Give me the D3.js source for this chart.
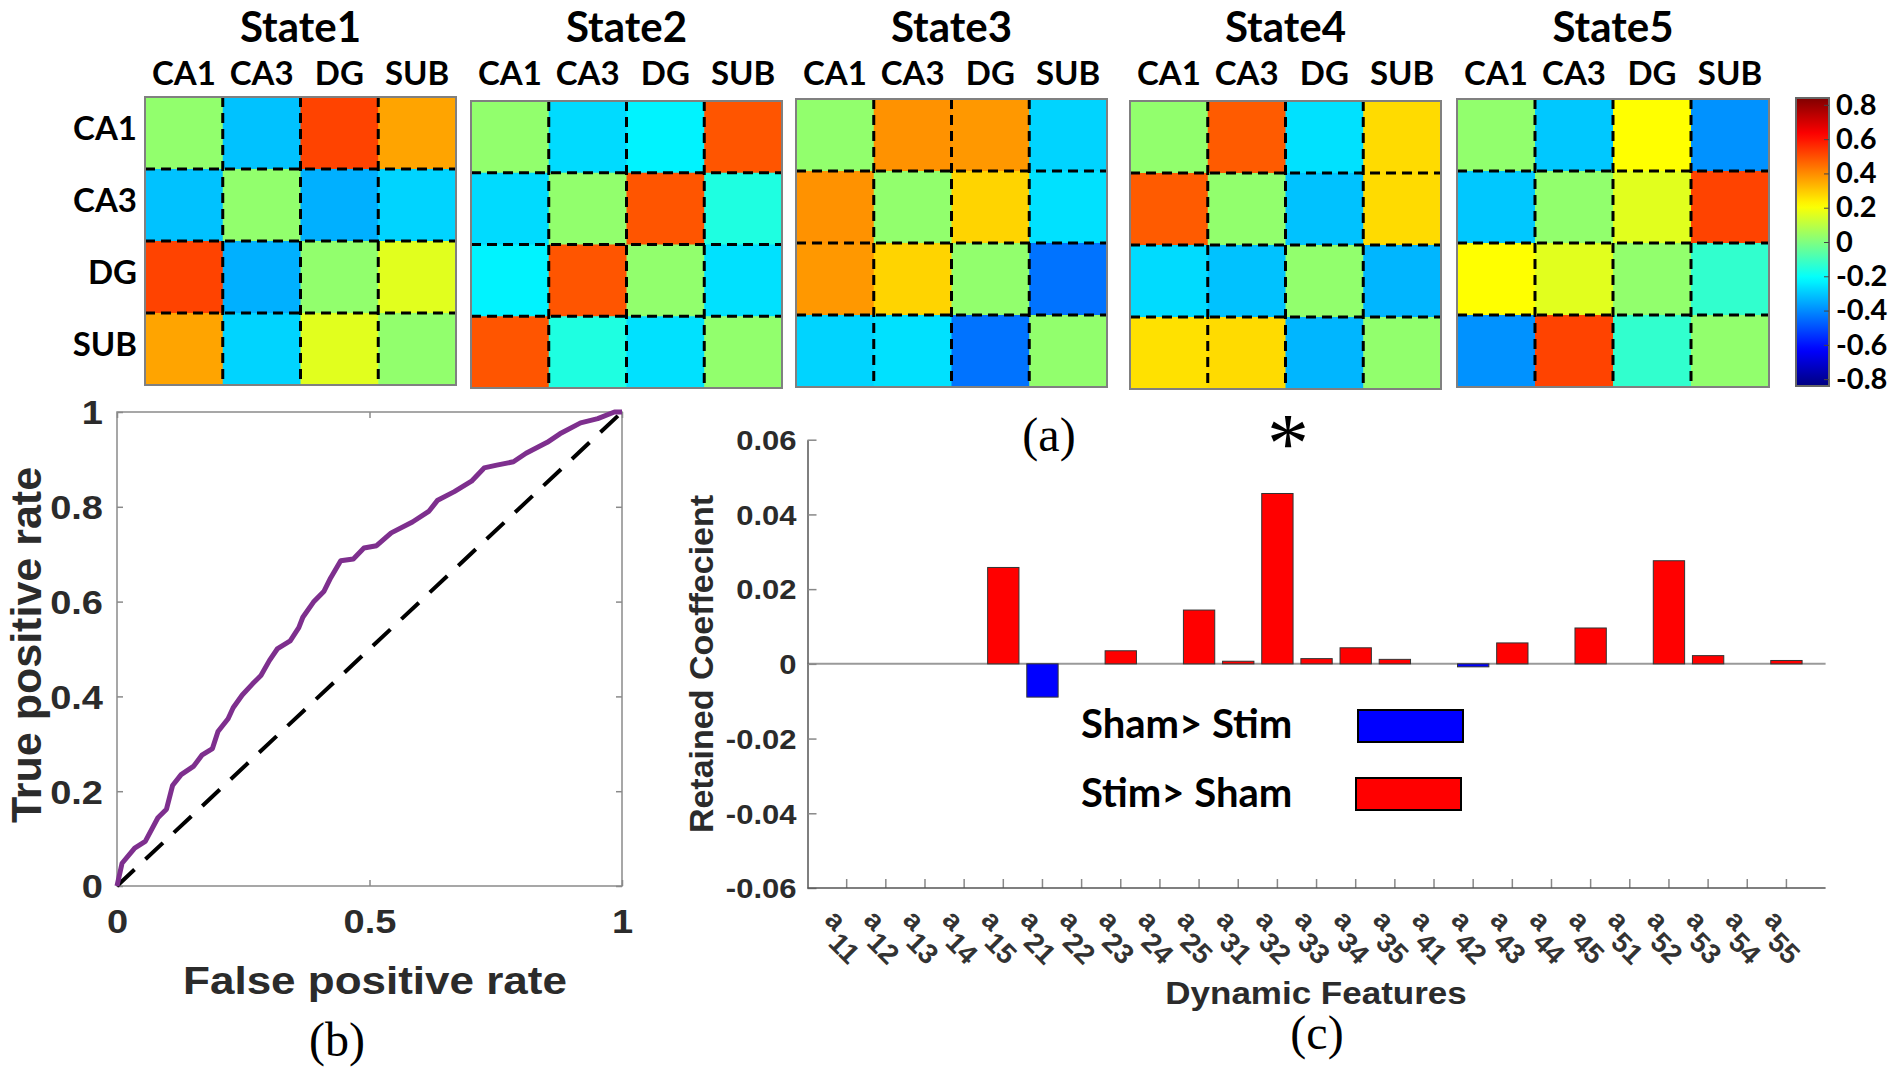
<!DOCTYPE html>
<html><head><meta charset="utf-8">
<script src="https://cdn.jsdelivr.net/npm/d3@7"></script>
<style>body{margin:0;background:#fff}svg{display:block}</style>
</head><body>
<svg id="c" width="1890" height="1068"></svg>
<script>
// ---------------- DATA ----------------
const regions = ["CA1", "CA3", "DG", "SUB"];
const stateNames = ["State1", "State2", "State3", "State4", "State5"];
const state1 = [[0.03, -0.31, 0.52, 0.36], [-0.31, 0.03, -0.34, -0.28], [0.52, -0.34, 0.03, 0.16], [0.36, -0.28, 0.16, 0.03]];
const state2 = [[0.03, -0.27, -0.23, 0.49], [-0.27, 0.03, 0.49, -0.16], [-0.23, 0.49, 0.03, -0.26], [0.49, -0.16, -0.26, 0.03]];
const state3 = [[0.03, 0.39, 0.38, -0.28], [0.39, 0.03, 0.28, -0.26], [0.38, 0.28, 0.03, -0.44], [-0.28, -0.26, -0.44, 0.03]];
const state4 = [[0.03, 0.48, -0.26, 0.27], [0.48, 0.03, -0.31, 0.27], [-0.27, -0.31, 0.03, -0.33], [0.26, 0.27, -0.33, 0.03]];
const state5 = [[0.03, -0.30, 0.21, -0.39], [-0.30, 0.03, 0.16, 0.52], [0.21, 0.16, 0.03, -0.13], [-0.39, 0.52, -0.13, 0.03]];
const colorDomain = [-0.84, 0.84];
const colorbarTicks = [0.8, 0.6, 0.4, 0.2, 0, -0.2, -0.4, -0.6, -0.8];

const rocFPR = [0,0.01,0.035,0.056,0.081,0.098,0.11,0.127,0.152,0.168,0.189,0.2,0.22,0.23,0.248,0.268,0.285,0.302,0.318,0.343,0.36,0.368,0.389,0.41,0.423,0.443,0.468,0.489,0.514,0.543,0.585,0.618,0.635,0.668,0.702,0.727,0.752,0.785,0.81,0.852,0.877,0.918,0.952,0.985,1];
const rocTPR = [0,0.048,0.08,0.094,0.144,0.162,0.212,0.235,0.253,0.276,0.29,0.326,0.353,0.376,0.403,0.426,0.444,0.476,0.501,0.517,0.545,0.567,0.599,0.622,0.65,0.686,0.69,0.713,0.718,0.745,0.768,0.791,0.814,0.832,0.854,0.882,0.888,0.895,0.913,0.936,0.954,0.977,0.986,1.0,1];
const rocTicksX = [0, 0.5, 1];
const rocTicksY = [0, 0.2, 0.4, 0.6, 0.8, 1];

const featureLabels = ["11","12","13","14","15","21","22","23","24","25","31","32","33","34","35","41","42","43","44","45","51","52","53","54","55"];
const featureValues = [0,0,0,0,0.0258,-0.0089,0,0.0035,0,0.0144,0.0007,0.0456,0.0014,0.0043,0.0012,0,-0.0008,0.0056,0,0.0096,0,0.0276,0.0022,0,0.0009];
const barTicksY = [-0.06, -0.04, -0.02, 0, 0.02, 0.04, 0.06];
const legendItems = ["Sham> Stim", "Stim> Sham"];

// ---------------- LAYOUT ----------------
const svg = d3.select("#c");
const CAL = "Lato, 'Open Sans', sans-serif";
const ARI = "'Liberation Sans', Arial, sans-serif";
const SER = "'Liberation Serif', 'Times New Roman', serif";
const SQ = 0.87; // vertical squash of the source figure text

function jet(t) {
  const c = v => Math.max(0, Math.min(1, v));
  const r = c(1.5 - Math.abs(4 * t - 3)), g = c(1.5 - Math.abs(4 * t - 2)), b = c(1.5 - Math.abs(4 * t - 1));
  return d3.rgb(r * 255, g * 255, b * 255).formatHex();
}
const colorScale = d3.scaleSequential(jet).domain(colorDomain);

// ---- heatmaps ----
const heatBoxes = [
  {x0: 145, x1: 456, y0: 97, y1: 385},
  {x0: 471, x1: 782, y0: 101, y1: 388},
  {x0: 796, x1: 1107, y0: 99, y1: 387},
  {x0: 1130, x1: 1441, y0: 101, y1: 389},
  {x0: 1457, x1: 1769, y0: 99, y1: 387}
];
const states = [state1, state2, state3, state4, state5];
states.forEach((m, i) => {
  const b = heatBoxes[i];
  const xs = d3.scaleBand().domain(regions).range([b.x0, b.x1]);
  const ys = d3.scaleBand().domain(regions).range([b.y0, b.y1]);
  const g = svg.append("g");
  const cells = regions.flatMap((r, ri) => regions.map((c, ci) => ({r, c, v: m[ri][ci]})));
  g.selectAll("rect.cell").data(cells).join("rect")
    .attr("x", d => xs(d.c)).attr("y", d => ys(d.r))
    .attr("width", xs.bandwidth() + 0.6).attr("height", ys.bandwidth() + 0.6)
    .attr("fill", d => colorScale(d.v));
  regions.slice(1).forEach(c => {
    g.append("line").attr("x1", xs(c)).attr("x2", xs(c)).attr("y1", b.y0).attr("y2", b.y1)
      .attr("stroke", "#000").attr("stroke-width", 3).attr("stroke-dasharray", "10,6");
    g.append("line").attr("y1", ys(c)).attr("y2", ys(c)).attr("x1", b.x0).attr("x2", b.x1)
      .attr("stroke", "#000").attr("stroke-width", 3).attr("stroke-dasharray", "10,6");
  });
  g.append("rect").attr("x", b.x0).attr("y", b.y0).attr("width", b.x1 - b.x0).attr("height", b.y1 - b.y0)
    .attr("fill", "none").attr("stroke", "#808080").attr("stroke-width", 2);
  g.append("text").attr("x", (b.x0 + b.x1) / 2).attr("y", 42).attr("text-anchor", "middle")
    .attr("font-family", CAL).attr("font-weight", 700).attr("font-size", 42).text(stateNames[i]);
  g.selectAll("text.col").data(regions).join("text").attr("class", "col")
    .attr("x", d => xs(d) + xs.bandwidth() / 2).attr("y", 85).attr("text-anchor", "middle")
    .attr("font-family", CAL).attr("font-weight", 700).attr("font-size", 33).text(d => d);
  if (i === 0) {
    g.selectAll("text.row").data(regions).join("text").attr("class", "row")
      .attr("x", 137).attr("y", d => ys(d) + ys.bandwidth() / 2 + 7).attr("text-anchor", "end")
      .attr("font-family", CAL).attr("font-weight", 700).attr("font-size", 33).text(d => d);
  }
});

// ---- colorbar ----
const cbX0 = 1796, cbX1 = 1829;
const cbY = d3.scaleLinear().domain(colorDomain).range([386, 98]);
const grad = svg.append("defs").append("linearGradient").attr("id", "jetg")
  .attr("x1", 0).attr("x2", 0).attr("y1", 1).attr("y2", 0);
d3.range(0, 1.0001, 0.02).forEach(t => grad.append("stop").attr("offset", t).attr("stop-color", jet(t)));
svg.append("rect").attr("x", cbX0).attr("y", cbY(colorDomain[1])).attr("width", cbX1 - cbX0)
  .attr("height", cbY(colorDomain[0]) - cbY(colorDomain[1])).attr("fill", "url(#jetg)")
  .attr("stroke", "#666").attr("stroke-width", 2);
const cbAxis = svg.append("g").attr("transform", `translate(${cbX1},0)`)
  .call(d3.axisRight(cbY).tickValues(colorbarTicks).tickSize(-5).tickPadding(7)
    .tickFormat(d => d === 0 ? "0" : d.toFixed(1)));
cbAxis.select(".domain").remove();
cbAxis.selectAll("line").attr("stroke", "#444");
cbAxis.selectAll("text").attr("font-family", CAL).attr("font-weight", 700).attr("font-size", 29).attr("fill", "#000");

// ---- ROC ----
const rx = d3.scaleLinear().domain([0, 1]).range([117, 622]);
const ry = d3.scaleLinear().domain([0, 1]).range([886, 412]);
const roc = svg.append("g");
roc.append("rect").attr("x", rx(0)).attr("y", ry(1)).attr("width", rx(1) - rx(0)).attr("height", ry(0) - ry(1))
  .attr("fill", "none").attr("stroke", "#8a8a8a").attr("stroke-width", 1.5);
function styleAxis(sel, labels) {
  sel.select(".domain").remove();
  sel.selectAll("line").attr("stroke", "#8a8a8a").attr("stroke-width", 1.5);
  if (!labels) sel.selectAll("text").remove();
  else sel.selectAll("text").attr("font-family", ARI).attr("font-weight", 700).attr("fill", "#2b2b2b");
}
const rl = roc.append("g").attr("transform", `translate(${rx(0)},0)`)
  .call(d3.axisLeft(ry).tickValues(rocTicksY).tickSize(-6).tickPadding(14).tickFormat(d => String(d)));
styleAxis(rl, true);
rl.selectAll("text").attr("font-size", 38).attr("transform", `scale(1,${SQ})`).attr("dy", "0.36em");
roc.append("g").attr("transform", `translate(${rx(1)},0)`)
  .call(d3.axisRight(ry).tickValues(rocTicksY).tickSize(-6)).call(s => styleAxis(s, false));
const rb = roc.append("g").attr("transform", `translate(0,${ry(0)})`)
  .call(d3.axisBottom(rx).tickValues(rocTicksX).tickSize(-6).tickPadding(27).tickFormat(d => String(d)));
styleAxis(rb, true);
rb.selectAll("text").attr("font-size", 38).attr("transform", `scale(1,${SQ})`);
roc.append("g").attr("transform", `translate(0,${ry(1)})`)
  .call(d3.axisTop(rx).tickValues(rocTicksX).tickSize(-6)).call(s => styleAxis(s, false));
const line = d3.line().x(d => rx(d[0])).y(d => ry(d[1]));
roc.append("path").datum([[0, 0], [1, 1]]).attr("d", line).attr("fill", "none")
  .attr("stroke", "#000").attr("stroke-width", 4).attr("stroke-dasharray", "24,15");
roc.append("path").datum(rocFPR.map((f, i) => [f, rocTPR[i]])).attr("d", line).attr("fill", "none")
  .attr("stroke", "#7E2F8E").attr("stroke-width", 5).attr("stroke-linejoin", "round");
roc.append("text").attr("transform", `translate(375,994) scale(1,${SQ})`).attr("text-anchor", "middle")
  .attr("font-family", ARI).attr("font-weight", 700).attr("font-size", 44).attr("fill", "#2b2b2b").text("False positive rate");
roc.append("text").attr("transform", `translate(41,645) rotate(-90)`).attr("text-anchor", "middle")
  .attr("font-family", ARI).attr("font-weight", 700).attr("font-size", 43).attr("fill", "#2b2b2b").text("True positive rate");

// ---- bar chart ----
const bx = d3.scaleBand().domain(featureLabels).range([827.1, 1806]).paddingInner(0.2).paddingOuter(0.1);
const by = d3.scaleLinear().domain([-0.06, 0.06]).range([888, 439.7]);
const bar = svg.append("g");
const axL = 807.5, axR = 1825.6;
bar.append("line").attr("x1", axL).attr("x2", axR).attr("y1", by(0)).attr("y2", by(0))
  .attr("stroke", "#9a9a9a").attr("stroke-width", 2);
bar.selectAll("rect.bar").data(featureLabels.map((l, i) => ({l, v: featureValues[i]})).filter(d => d.v !== 0))
  .join("rect").attr("class", "bar")
  .attr("x", d => bx(d.l)).attr("width", bx.bandwidth())
  .attr("y", d => by(Math.max(0, d.v))).attr("height", d => Math.abs(by(d.v) - by(0)))
  .attr("fill", d => d.v > 0 ? "#ff0000" : "#0000ff").attr("stroke", "#333").attr("stroke-width", 1);
const bl = bar.append("g").attr("transform", `translate(${axL},0)`)
  .call(d3.axisLeft(by).tickValues(barTicksY).tickSize(-9).tickSizeOuter(0).tickPadding(11)
    .tickFormat(d => d === 0 ? "0" : d.toFixed(2)));
bl.select(".domain").attr("stroke", "#555").attr("stroke-width", 1.5);
bl.selectAll(".tick line").attr("stroke", "#888").attr("stroke-width", 1.5);
bl.selectAll("text").attr("font-family", ARI).attr("font-weight", 700).attr("font-size", 31).attr("fill", "#2b2b2b")
  .attr("transform", `scale(1,${SQ})`).attr("dy", "0.36em");
const bbAx = bar.append("g").attr("transform", `translate(0,${by(-0.06)})`)
  .call(d3.axisBottom(bx).tickSize(-9).tickSizeOuter(0).tickFormat(""));
bbAx.select(".domain").remove();
bbAx.selectAll(".tick line").attr("stroke", "#888").attr("stroke-width", 1.5);
bar.append("line").attr("x1", axL).attr("x2", axR).attr("y1", by(-0.06)).attr("y2", by(-0.06))
  .attr("stroke", "#555").attr("stroke-width", 1.5);
const tl = bar.selectAll("g.tl").data(featureLabels).join("g").attr("class", "tl")
  .attr("transform", d => `translate(${bx(d) + bx.bandwidth() / 2 - 11},920) rotate(45)`);
tl.append("text").attr("text-anchor", "middle").attr("dominant-baseline", "central")
  .attr("font-family", ARI).attr("font-weight", 700).attr("font-size", 28).attr("fill", "#333").text("a");
tl.append("text").attr("x", 26).attr("y", 14).attr("text-anchor", "middle").attr("dominant-baseline", "central")
  .attr("font-family", ARI).attr("font-weight", 700).attr("font-size", 28).attr("fill", "#333").text(d => d);
bar.append("text").attr("transform", `translate(1316,1004) scale(1,0.92)`).attr("text-anchor", "middle")
  .attr("font-family", ARI).attr("font-weight", 700).attr("font-size", 35).attr("fill", "#2b2b2b").text("Dynamic Features");
bar.append("text").attr("transform", `translate(713,664) rotate(-90)`).attr("text-anchor", "middle")
  .attr("font-family", ARI).attr("font-weight", 700).attr("font-size", 34).attr("fill", "#2b2b2b").text("Retained Coeffecient");

// legend
const legY = [723, 792];
const legRects = [{x: 1358, y: 710, c: "#0000ff"}, {x: 1356, y: 778, c: "#ff0000"}];
legendItems.forEach((t, i) => {
  bar.append("text").attr("x", 1081).attr("y", legY[i]).attr("dominant-baseline", "central")
    .attr("font-family", CAL).attr("font-weight", 700).attr("font-size", 40).attr("fill", "#000").text(t);
  bar.append("rect").attr("x", legRects[i].x).attr("y", legRects[i].y).attr("width", 105).attr("height", 32)
    .attr("fill", legRects[i].c).attr("stroke", "#000").attr("stroke-width", 2);
});

// panel letters & star
[["(a)", 1049, 451], ["(b)", 337, 1056], ["(c)", 1317, 1049]].forEach(([t, x, y]) => {
  svg.append("text").attr("x", x).attr("y", y).attr("text-anchor", "middle")
    .attr("font-family", SER).attr("font-size", 48).attr("fill", "#000").text(t);
});
svg.append("text").attr("x", 1288).attr("y", 472).attr("text-anchor", "middle")
  .attr("font-family", SER).attr("font-size", 84).attr("fill", "#000").text("*");
</script>
</body></html>
